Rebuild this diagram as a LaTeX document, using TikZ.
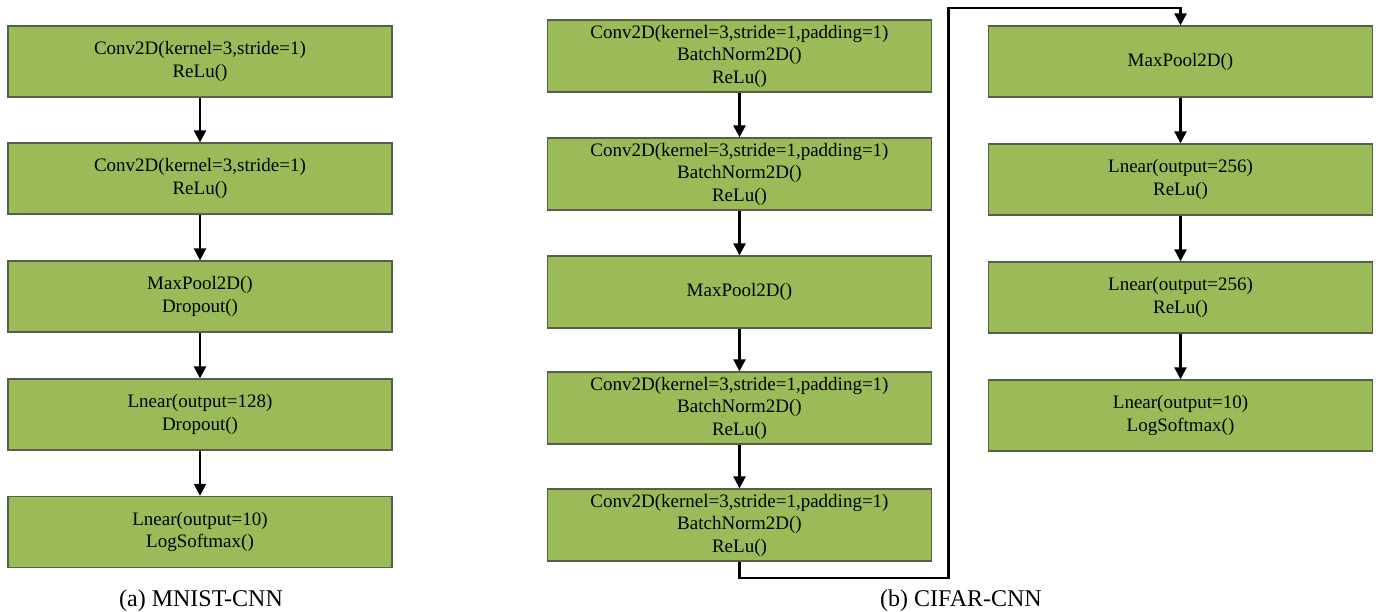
\documentclass[tikz,border=0pt]{standalone}
\usepackage{fontspec}
\setmainfont{Liberation Serif}
\usetikzlibrary{arrows.meta}
\definecolor{boxfill}{RGB}{155,187,89}
\definecolor{boxline}{RGB}{85,95,75}
\tikzset{
  layer/.style={draw=boxline, line width=1.3pt, fill=boxfill, rectangle,
    minimum width=384pt, minimum height=71pt, inner sep=0pt, align=center,
    font=\fontsize{19}{22.5}\selectfont},
  arr/.style={line width=2.4pt, -{Triangle[width=12pt,length=12pt]}},
  captiontext/.style={font=\fontsize{24}{27}\selectfont, inner sep=0pt}
}
\begin{document}
\begin{tikzpicture}[x=1pt,y=1pt]
\useasboundingbox (0,0) rectangle (1380,-612);
% column (a)
\node[layer] (a1) at (200,-61.5) {Conv2D(kernel=3,stride=1)\\ReLu()};
\node[layer] (a2) at (200,-178.5) {Conv2D(kernel=3,stride=1)\\ReLu()};
\node[layer] (a3) at (200,-296.5) {MaxPool2D()\\Dropout()};
\node[layer] (a4) at (200,-414.5) {Lnear(output=128)\\Dropout()};
\node[layer] (a5) at (200,-532) {Lnear(output=10)\\LogSoftmax()};
\draw[arr] (a1) -- (a2);
\draw[arr] (a2) -- (a3);
\draw[arr] (a3) -- (a4);
\draw[arr] (a4) -- (a5);
\node[captiontext] (capa) at (201,-601) {(a) MNIST-CNN};
% column (b) left
\node[layer, minimum height=72pt] (b1) at (739.5,-56) {Conv2D(kernel=3,stride=1,padding=1)\\BatchNorm2D()\\ReLu()};
\node[layer, minimum height=72pt] (b2) at (739.5,-174) {Conv2D(kernel=3,stride=1,padding=1)\\BatchNorm2D()\\ReLu()};
\node[layer, minimum height=72pt] (b3) at (739.5,-292) {MaxPool2D()};
\node[layer, minimum height=72pt] (b4) at (739.5,-408) {Conv2D(kernel=3,stride=1,padding=1)\\BatchNorm2D()\\ReLu()};
\node[layer, minimum height=72pt] (b5) at (739.5,-525) {Conv2D(kernel=3,stride=1,padding=1)\\BatchNorm2D()\\ReLu()};
\draw[arr] (b1) -- (b2);
\draw[arr] (b2) -- (b3);
\draw[arr] (b3) -- (b4);
\draw[arr] (b4) -- (b5);
% column (b) right
\node[layer] (c1) at (1180.5,-61.5) {MaxPool2D()};
\node[layer] (c2) at (1180.5,-179.5) {Lnear(output=256)\\ReLu()};
\node[layer] (c3) at (1180.5,-297.5) {Lnear(output=256)\\ReLu()};
\node[layer] (c4) at (1180.5,-415.5) {Lnear(output=10)\\LogSoftmax()};
\draw[arr] (c1) -- (c2);
\draw[arr] (c2) -- (c3);
\draw[arr] (c3) -- (c4);
\coordinate (turn) at (948.5,-8);
\draw[arr] (b5.south) -- ++(0,-16.5) -| (turn) -| (c1.north);
\node[captiontext] (capb) at (961,-601) {(b) CIFAR-CNN};
\end{tikzpicture}
\end{document}
